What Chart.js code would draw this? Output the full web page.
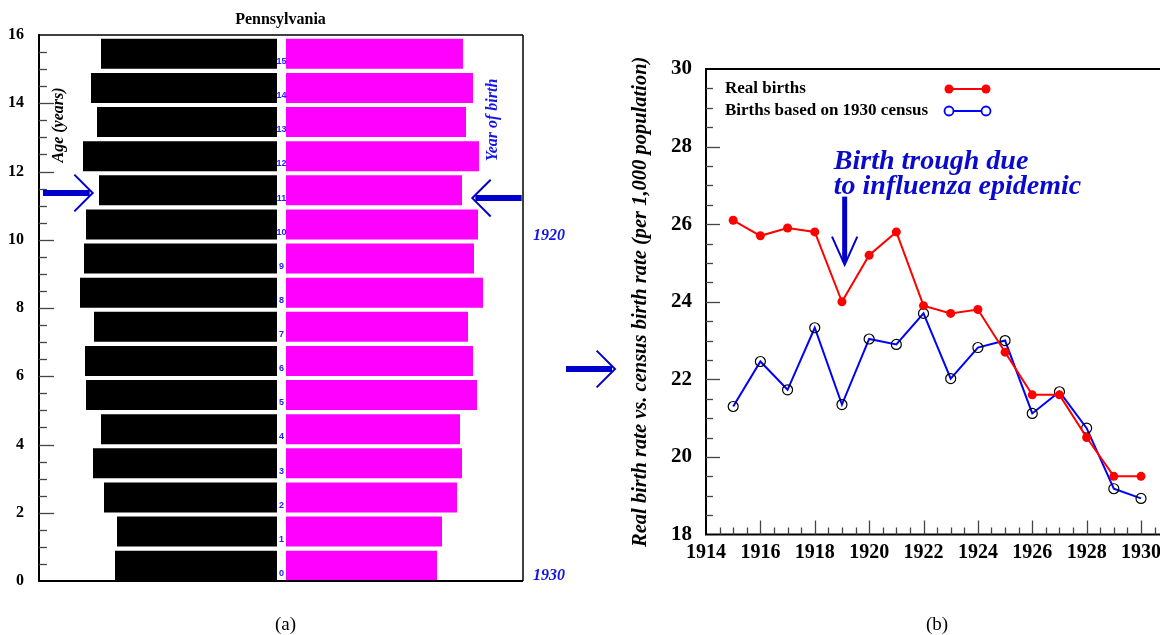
<!DOCTYPE html>
<html>
<head>
<meta charset="utf-8">
<title>Pennsylvania births 1915-1930</title>
<script src="https://cdn.jsdelivr.net/npm/chart.js@4.4.1/dist/chart.umd.min.js"></script>
<style>
  html, body { margin: 0; padding: 0; background: #fff; }
  body { width: 1160px; height: 635px; overflow: hidden; position: relative; }
  .panel { position: absolute; top: 0; height: 635px; }
  #pyramidBox { left: 0; width: 620px; }
  #ratesBox { left: 620px; width: 600px; }
  .caption { position: absolute; top: 613px; line-height: 20px; font: 19px "Liberation Serif", serif; }
</style>
</head>
<body>
<div class="panel" id="pyramidBox"><canvas id="pyramid" width="620" height="635"></canvas></div>
<div class="panel" id="ratesBox"><canvas id="rates" width="600" height="635"></canvas></div>
<div class="caption" style="left:275px">(a)</div>
<div class="caption" style="left:926px">(b)</div>
<script>
// Age pyramid, 1930 census (one bar per single year of age, thousands)
const ages = [0, 1, 2, 3, 4, 5, 6, 7, 8, 9, 10, 11, 12, 13, 14, 15];
const leftCounts = [162, 160, 173, 184, 176, 191, 192, 183, 197, 193, 191, 178, 194, 180, 186, 176];
const rightCounts = [151, 156, 171, 176, 174, 191, 187, 182, 197, 188, 192, 176, 193, 180, 187, 177];
const ageTicks = [0, 2, 4, 6, 8, 10, 12, 14, 16];

// Birth rates per 1,000 population
const years = [1915, 1916, 1917, 1918, 1919, 1920, 1921, 1922, 1923, 1924, 1925, 1926, 1927, 1928, 1929, 1930];
const realBirths = [26.1, 25.7, 25.9, 25.8, 24.0, 25.2, 25.8, 23.9, 23.7, 23.8, 22.7, 21.6, 21.6, 20.5, 19.5, 19.5];
const censusBirths = [21.3, 22.46, 21.73, 23.33, 21.35, 23.04, 22.9, 23.7, 22.02, 22.82, 23.0, 21.12, 21.68, 20.74, 19.18, 18.93];
const yearTicks = [1914, 1916, 1918, 1920, 1922, 1924, 1926, 1928, 1930];
const rateTicks = [18, 20, 22, 24, 26, 28, 30];

const SERIF = '"Liberation Serif", "Times New Roman", serif';
const GUTTER = 9;   // space between the two halves, holds the age numbers

function arrow(ctx, x0, y0, x1, y1, opts) {
  const {color = '#0000cc', shaft = 6, head = 26, spread = Math.PI / 4} = opts || {};
  const ang = Math.atan2(y1 - y0, x1 - x0);
  ctx.save();
  ctx.strokeStyle = color;
  ctx.lineWidth = shaft;
  ctx.beginPath();
  ctx.moveTo(x0, y0);
  ctx.lineTo(x1 - 3 * Math.cos(ang), y1 - 3 * Math.sin(ang));
  ctx.stroke();
  ctx.lineWidth = 2;
  ctx.beginPath();
  ctx.moveTo(x1 - head * Math.cos(ang - spread), y1 - head * Math.sin(ang - spread));
  ctx.lineTo(x1, y1);
  ctx.lineTo(x1 - head * Math.cos(ang + spread), y1 - head * Math.sin(ang + spread));
  ctx.stroke();
  ctx.restore();
}

function rotatedText(ctx, text, x, y, font, color) {
  ctx.save();
  ctx.translate(x, y);
  ctx.rotate(-Math.PI / 2);
  ctx.font = font;
  ctx.fillStyle = color;
  ctx.textAlign = 'center';
  ctx.textBaseline = 'middle';
  ctx.fillText(text, 0, 0);
  ctx.restore();
}

// frame + inward ticks every half unit, long ones on the labelled values
function drawFrame(ctx, a, frameWidths) {
  ctx.strokeStyle = '#000';
  ctx.lineWidth = frameWidths.top;
  ctx.beginPath(); ctx.moveTo(a.left, a.top); ctx.lineTo(a.right, a.top); ctx.stroke();
  ctx.lineWidth = frameWidths.right;
  ctx.beginPath(); ctx.moveTo(a.right, a.top); ctx.lineTo(a.right, a.bottom); ctx.stroke();
  ctx.lineWidth = 2;
  ctx.beginPath();
  ctx.moveTo(a.left, a.top - 1);
  ctx.lineTo(a.left, a.bottom);
  ctx.lineTo(a.right, a.bottom);
  ctx.stroke();
}

function drawYTicks(ctx, scale, x0, major, minor) {
  ctx.strokeStyle = '#444';
  ctx.lineWidth = 1.3;
  for (let v = scale.min + 0.5; v < scale.max; v += 0.5) {
    const py = Math.round(scale.getPixelForValue(v)) + 0.5;
    const len = v % 2 === 0 ? major : minor;
    ctx.beginPath(); ctx.moveTo(x0, py); ctx.lineTo(x0 + len, py); ctx.stroke();
  }
}

const pyramidDecor = {
  id: 'pyramidDecor',
  afterDatasetsDraw(chart) {
    const {ctx, chartArea: a, scales: {x, y}} = chart;
    ctx.save();
    drawFrame(ctx, a, {top: 1.5, right: 1.5});
    drawYTicks(ctx, y, a.left, 15, 8);

    // age numbers in the gutter between the halves
    ctx.fillStyle = '#2222ff';
    ctx.font = 'bold 9px "Liberation Sans", Arial, sans-serif';
    ctx.textAlign = 'center';
    ctx.textBaseline = 'middle';
    const gx = x.getPixelForValue(GUTTER / 2);
    ages.forEach(age => ctx.fillText(String(age), gx, y.getPixelForValue(age + 0.22)));

    ctx.fillStyle = '#000';
    ctx.font = 'bold 16px ' + SERIF;
    ctx.fillText('Pennsylvania', 280.5, 20);

    rotatedText(ctx, 'Age (years)', 59, 125, 'italic bold 16px ' + SERIF, '#000');
    rotatedText(ctx, 'Year of birth', 493, 120, 'italic bold 16px ' + SERIF, '#1414e6');

    ctx.fillStyle = '#1414e6';
    ctx.font = 'italic bold 16px ' + SERIF;
    ctx.fillText('1920', 549, y.getPixelForValue(10.12));
    ctx.fillText('1930', 549, y.getPixelForValue(0.15));

    const yl = y.getPixelForValue(11.37);
    const yr = y.getPixelForValue(11.22);
    arrow(ctx, 43, yl, 92.7, yl);
    arrow(ctx, 521.7, yr, 472.3, yr);
    arrow(ctx, 566, 369, 615, 369);
    ctx.restore();
  }
};

new Chart('pyramid', {
  type: 'bar',
  data: {
    datasets: [{
      data: ages.map((age, i) => ({y: age + 0.45, x: [-leftCounts[i], 0]})),
      backgroundColor: '#000000'
    }, {
      data: ages.map((age, i) => ({y: age + 0.45, x: [GUTTER, GUTTER + rightCounts[i]]})),
      backgroundColor: '#ff00ff'
    }]
  },
  options: {
    responsive: false,
    animation: false,
    events: [],
    indexAxis: 'y',
    datasets: { bar: { grouped: false, barPercentage: 0.88, categoryPercentage: 1 } },
    layout: { padding: { top: 35, bottom: 54, left: 0, right: 97 } },
    scales: {
      x: { type: 'linear', min: -238, max: 246, display: false },
      y: {
        type: 'linear', min: 0, max: 16, offset: false,
        afterFit: s => { s.width = 39; },
        afterBuildTicks: s => { s.ticks = ageTicks.map(v => ({value: v})); },
        grid: { display: false, drawTicks: false },
        border: { display: false },
        ticks: {
          padding: 15, color: '#000',
          font: { family: SERIF, size: 16, weight: 'bold' },
          callback: v => String(v)
        }
      }
    },
    plugins: { legend: { display: false }, tooltip: { enabled: false } }
  },
  plugins: [pyramidDecor]
});

const ratesDecor = {
  id: 'ratesDecor',
  afterDatasetsDraw(chart) {
    const {ctx, chartArea: a, scales: {x, y}} = chart;
    ctx.save();
    drawFrame(ctx, a, {top: 2, right: 2});
    drawYTicks(ctx, y, a.left, 14, 7);
    // x ticks pointing up from the bottom axis
    for (let v = x.min + 0.5; v < x.max; v += 0.5) {
      const px = Math.round(x.getPixelForValue(v)) + 0.5;
      const len = v % 2 === 0 ? 14 : 7;
      ctx.beginPath(); ctx.moveTo(px, a.bottom); ctx.lineTo(px, a.bottom - len); ctx.stroke();
    }

    // legend: text first, sample line after it
    ctx.font = 'bold 17px ' + SERIF;
    ctx.textAlign = 'left';
    ctx.textBaseline = 'middle';
    chart.data.datasets.forEach((ds, i) => {
      const ly = a.top + 20 + i * 22;
      ctx.fillStyle = '#000';
      ctx.fillText(ds.label, a.left + 19, ly);
      const x0 = a.left + 243, x1 = a.left + 280;
      ctx.strokeStyle = ds.borderColor;
      ctx.lineWidth = 2;
      ctx.beginPath(); ctx.moveTo(x0, ly); ctx.lineTo(x1, ly); ctx.stroke();
      [x0, x1].forEach(px => {
        ctx.beginPath();
        ctx.arc(px, ly, 4.5, 0, Math.PI * 2);
        if (i === 0) {
          ctx.fillStyle = ds.pointBackgroundColor;
          ctx.fill();
        } else {
          ctx.fillStyle = '#fff';
          ctx.fill();
          ctx.lineWidth = 1.8;
          ctx.stroke();
        }
      });
    });

    // annotation about the 1919 dip
    ctx.fillStyle = '#0a0acc';
    ctx.font = 'italic bold 28px ' + SERIF;
    ctx.textBaseline = 'alphabetic';
    const tx = x.getPixelForValue(1918.7);
    ctx.fillText('Birth trough due', tx, y.getPixelForValue(27.43));
    ctx.fillText('to influenza epidemic', tx, y.getPixelForValue(26.79));
    const ax = x.getPixelForValue(1919.1);
    arrow(ctx, ax, y.getPixelForValue(26.71), ax, y.getPixelForValue(24.95),
      {shaft: 5, head: 31, spread: 0.42});
    ctx.restore();
  }
};

new Chart('rates', {
  type: 'line',
  data: {
    datasets: [{
      label: 'Real births',
      data: years.map((yr, i) => ({x: yr, y: realBirths[i]})),
      borderColor: '#ff0000',
      borderWidth: 2,
      pointRadius: 4.5,
      pointBackgroundColor: '#ff0000',
      pointBorderColor: '#ff0000',
      pointBorderWidth: 0
    }, {
      label: 'Births based on 1930 census',
      data: years.map((yr, i) => ({x: yr, y: censusBirths[i]})),
      borderColor: '#0000ff',
      borderWidth: 2,
      pointRadius: 5,
      pointBackgroundColor: 'rgba(0,0,0,0)',
      pointBorderColor: '#000000',
      pointBorderWidth: 1.2
    }]
  },
  options: {
    responsive: false,
    animation: false,
    events: [],
    layout: { padding: { top: 69, bottom: 0, left: 0, right: 24.6 } },
    scales: {
      x: {
        type: 'linear', min: 1914, max: 1932,
        afterFit: s => { s.height = 100.5; },
        afterBuildTicks: s => { s.ticks = yearTicks.map(v => ({value: v})); },
        grid: { display: false, drawTicks: false },
        border: { display: false },
        ticks: {
          padding: 6, color: '#000', autoSkip: false, maxRotation: 0,
          font: { family: SERIF, size: 20, weight: 'bold' },
          callback: v => String(v)
        }
      },
      y: {
        type: 'linear', min: 18, max: 30,
        afterFit: s => { s.width = 86; },
        afterBuildTicks: s => { s.ticks = rateTicks.map(v => ({value: v})); },
        grid: { display: false, drawTicks: false },
        border: { display: false },
        ticks: {
          padding: 14, color: '#000',
          font: { family: SERIF, size: 21, weight: 'bold' },
          callback: v => String(v)
        },
        title: {
          display: true,
          text: 'Real birth rate vs. census birth rate (per 1,000 population)',
          color: '#000',
          font: { family: SERIF, size: 20.5, weight: 'bold', style: 'italic' },
          padding: { top: 8, bottom: 0 }
        }
      }
    },
    plugins: { legend: { display: false }, tooltip: { enabled: false } }
  },
  plugins: [ratesDecor]
});
</script>
</body>
</html>
